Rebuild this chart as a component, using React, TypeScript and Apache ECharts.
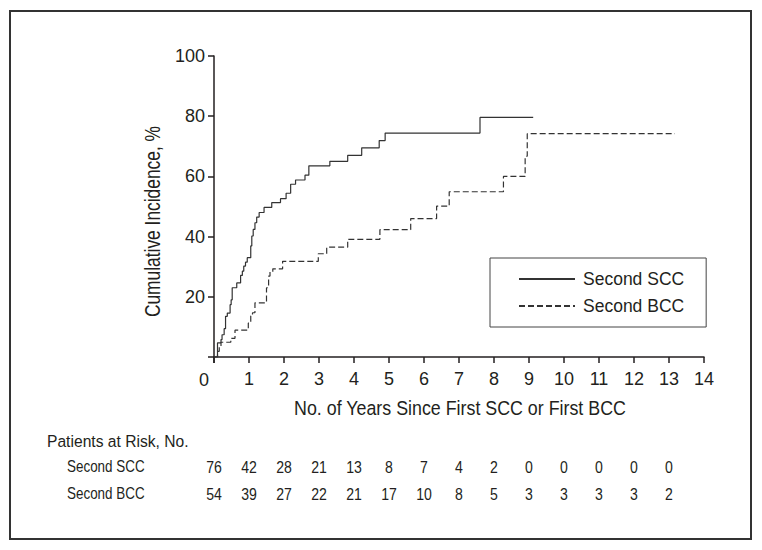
import React, { useEffect, useRef } from "react";
import * as echarts from "echarts";

const sccTimes = [0, 0.1, 0.2, 0.23, 0.29, 0.33, 0.38, 0.46, 0.49, 0.52, 0.65, 0.76, 0.81, 0.85, 0.9, 0.95, 1.05, 1.08, 1.12, 1.17, 1.22, 1.29, 1.43, 1.65, 1.9, 2.06, 2.19, 2.33, 2.6, 2.71, 3.31, 3.82, 4.22, 4.72, 4.89, 7.6, 9.12];
const sccValues = [0, 4.7, 5.8, 7.4, 9.4, 13.5, 14.6, 17.4, 19, 23, 24.6, 27.1, 28.5, 30.2, 31.5, 33, 36.9, 40.2, 42.4, 44.6, 46.5, 48, 49.7, 51.3, 52.6, 54.4, 57.4, 58.8, 60.4, 63.5, 65, 67, 69.5, 71.9, 74.4, 79.6, 79.6];

const bccTimes = [0, 0.1, 0.15, 0.2, 0.48, 0.6, 0.98, 1.05, 1.1, 1.17, 1.5, 1.56, 1.6, 1.68, 1.96, 2.98, 3.22, 3.82, 4.74, 5.62, 6.36, 6.72, 8.27, 8.89, 8.95, 13.17];
const bccValues = [0, 1.9, 3.6, 4.9, 6.2, 8.9, 11.3, 13.6, 14.7, 18, 23, 26.9, 28.3, 29.3, 31.8, 34.3, 36.5, 39.1, 42.3, 46, 50.1, 54.9, 60, 66.7, 74.2, 74.2];

const seriesNames = ["Second SCC", "Second BCC"];
const riskYears = [0, 1, 2, 3, 4, 5, 6, 7, 8, 9, 10, 11, 12, 13];
const sccAtRisk = [76, 42, 28, 21, 13, 8, 7, 4, 2, 0, 0, 0, 0, 0];
const bccAtRisk = [54, 39, 27, 22, 21, 17, 10, 8, 5, 3, 3, 3, 3, 2];

const xTicks = [0, 1, 2, 3, 4, 5, 6, 7, 8, 9, 10, 11, 12, 13, 14];
const yTicks = [0, 20, 40, 60, 80, 100];

const xTitle = "No. of Years Since First SCC or First BCC";
const yTitle = "Cumulative Incidence, %";
const tableTitle = "Patients at Risk, No.";

const FONT = '"Liberation Sans", Arial, sans-serif';
const INK = "#231f20";

export default function App() {
  const ref = useRef<HTMLDivElement>(null);
  useEffect(() => {
    if (!ref.current) return;
    const chart = echarts.init(ref.current, null, { renderer: "svg" });
    const pair = (t: number[], v: number[]) => t.map((x, i) => [x, v[i]]);
    chart.setOption({
      animation: false,
      backgroundColor: "#fff",
      textStyle: { fontFamily: FONT, color: INK },
      grid: { left: 214, top: 56, right: 58, bottom: 193, containLabel: false },
      xAxis: {
        type: "value",
        min: xTicks[0],
        max: xTicks[xTicks.length - 1],
        interval: 1,
        splitLine: { show: false },
        axisLine: { lineStyle: { color: INK, width: 1.5 } },
        axisTick: { show: true, length: 6, lineStyle: { color: INK, width: 1.5 } },
        axisLabel: {
          color: INK,
          fontSize: 18,
          fontFamily: FONT,
          margin: 13,
          formatter: (v: number) => (v === 0 ? "" : String(v)),
        },
      },
      yAxis: {
        type: "value",
        min: yTicks[0],
        max: yTicks[yTicks.length - 1],
        interval: 20,
        splitLine: { show: false },
        axisLine: { show: true, lineStyle: { color: INK, width: 1.5 } },
        axisTick: { show: true, length: 6, lineStyle: { color: INK, width: 1.5 } },
        axisLabel: {
          color: INK,
          fontSize: 18,
          fontFamily: FONT,
          margin: 9,
          formatter: (v: number) => (v === 0 ? "" : String(v)),
        },
      },
      legend: {
        orient: "vertical",
        left: 490,
        top: 258,
        padding: [11, 22, 11, 28],
        itemGap: 7,
        itemWidth: 56,
        itemHeight: 14,
        borderColor: "#444",
        borderWidth: 1,
        borderRadius: 0,
        itemStyle: { opacity: 0 },
        textStyle: { fontSize: 17.5, color: INK, fontFamily: FONT, lineHeight: 20, padding: [0, 0, 0, 3] },
        data: seriesNames,
      },
      series: [
        {
          name: seriesNames[0],
          type: "line",
          step: "end",
          symbol: "none",
          data: pair(sccTimes, sccValues),
          lineStyle: { color: "#333", width: 1.2, type: "solid" },
          itemStyle: { color: "#333" },
        },
        {
          name: seriesNames[1],
          type: "line",
          step: "end",
          symbol: "none",
          data: pair(bccTimes, bccValues),
          lineStyle: { color: "#333", width: 1.2, type: [6, 3] },
          itemStyle: { color: "#333" },
        },
      ],
    });

    const o = chart.convertToPixel({ gridIndex: 0 }, [0, 0]) as number[];
    const yMid = chart.convertToPixel({ gridIndex: 0 }, [0, 45]) as number[];
    const xMid = chart.convertToPixel({ gridIndex: 0 }, [7, 0]) as number[];
    const g: any[] = [
      { type: "rect", shape: { x: 10, y: 11, width: 741, height: 528 }, style: { fill: "none", stroke: "#333", lineWidth: 2 }, silent: true },
      { type: "line", shape: { x1: o[0], y1: o[1], x2: o[0], y2: o[1] + 6 }, style: { stroke: INK, lineWidth: 1.5 } },
      { type: "text", x: o[0] - 10, y: o[1] + 23, style: { text: "0", fontSize: 18, fontFamily: FONT, fill: INK, align: "center", verticalAlign: "middle" } },
      { type: "text", x: 152, y: yMid[1], rotation: Math.PI / 2, scaleX: 0.79, style: { text: yTitle, fontSize: 22, fontFamily: FONT, fill: INK, align: "center", verticalAlign: "middle" } },
      { type: "text", x: xMid[0] + 1, y: o[1] + 51, scaleX: 0.87, style: { text: xTitle, fontSize: 20.5, fontFamily: FONT, fill: INK, align: "center", verticalAlign: "middle" } },
      { type: "text", x: 47, y: 441, scaleX: 0.92, style: { text: tableTitle, fontSize: 17, fontFamily: FONT, fill: INK, verticalAlign: "middle" } },
      { type: "text", x: 67, y: 467, scaleX: 0.84, style: { text: seriesNames[0], fontSize: 16, fontFamily: FONT, fill: INK, verticalAlign: "middle" } },
      { type: "text", x: 67, y: 494, scaleX: 0.84, style: { text: seriesNames[1], fontSize: 16, fontFamily: FONT, fill: INK, verticalAlign: "middle" } },
    ];
    riskYears.forEach((yr, i) => {
      const p = chart.convertToPixel({ gridIndex: 0 }, [yr, 0]) as number[];
      g.push({ type: "text", x: p[0], y: 467, scaleX: 0.88, style: { text: String(sccAtRisk[i]), fontSize: 16, fontFamily: FONT, fill: INK, align: "center", verticalAlign: "middle" } });
      g.push({ type: "text", x: p[0], y: 494, scaleX: 0.88, style: { text: String(bccAtRisk[i]), fontSize: 16, fontFamily: FONT, fill: INK, align: "center", verticalAlign: "middle" } });
    });
    chart.setOption({ graphic: g });
    return () => chart.dispose();
  }, []);
  return <div ref={ref} style={{ position: "fixed", left: 0, top: 0, width: 762, height: 550 }} />;
}
